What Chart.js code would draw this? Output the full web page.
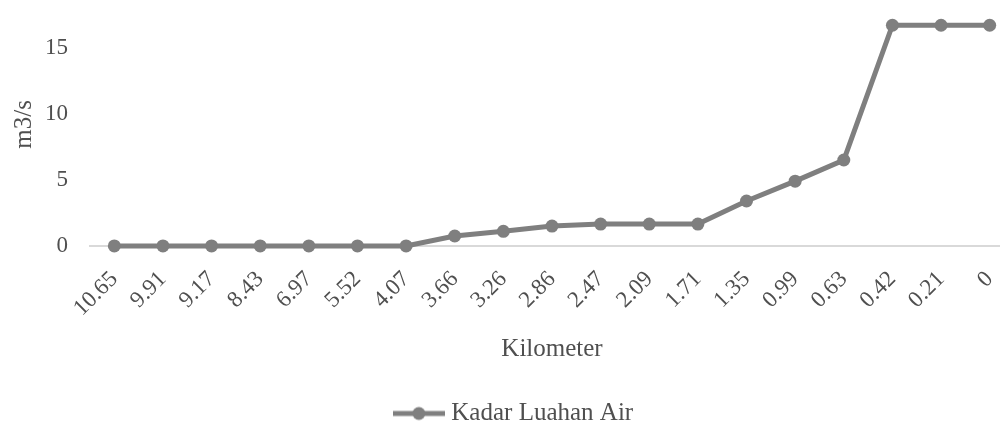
<!DOCTYPE html>
<html>
<head>
<meta charset="utf-8">
<script src="https://cdn.jsdelivr.net/npm/chart.js@4"></script>
<style>
  html, body { margin: 0; padding: 0; background: #fff; overflow: hidden; }
  #wrap { width: 1026px; height: 450px; margin-top: -25px; }
</style>
</head>
<body>
<div id="wrap"><canvas id="grafik"></canvas></div>
<script>
const kilometer = ["10.65", "9.91", "9.17", "8.43", "6.97", "5.52", "4.07", "3.66", "3.26", "2.86",
  "2.47", "2.09", "1.71", "1.35", "0.99", "0.63", "0.42", "0.21", "0"];
const luahan = [0, 0, 0, 0, 0, 0, 0, 0.75, 1.1, 1.5, 1.65, 1.65, 1.65, 3.4, 4.9, 6.5, 16.7, 16.7, 16.7];
const yTicks = [0, 5, 10, 15];

const abu = "#7f7f7f";
const teks = "#4f4f4f";
const serif = "'Liberation Serif', 'Times New Roman', serif";
const hurufTick = { family: serif, size: 23 };
const hurufJudul = { family: serif, size: 25 };

// legend marker: short line with a dot in the middle
const ikon = document.createElement("canvas");
ikon.width = 52;
ikon.height = 16;
const ic = ikon.getContext("2d");
ic.strokeStyle = abu;
ic.lineWidth = 5;
ic.beginPath();
ic.moveTo(0, 8);
ic.lineTo(52, 8);
ic.stroke();
ic.fillStyle = abu;
ic.beginPath();
ic.arc(26, 8, 6.5, 0, Math.PI * 2);
ic.fill();

const ctx = document.getElementById("grafik").getContext("2d");

new Chart(ctx, {
  type: "line",
  data: {
    labels: kilometer,
    datasets: [
      {
        label: "Kadar Luahan Air",
        data: luahan,
        borderColor: abu,
        backgroundColor: abu,
        borderWidth: 5,
        pointRadius: 6.5,
        pointHoverRadius: 6.5,
        pointBackgroundColor: abu,
        pointBorderWidth: 0,
        tension: 0,
        clip: false,
      },
    ],
  },
  options: {
    responsive: true,
    maintainAspectRatio: false,
    animation: false,
    layout: { padding: { top: 0, left: 18, right: 12, bottom: -11 } },
    plugins: {
      legend: {
        position: "bottom",
        labels: {
          color: teks,
          font: hurufJudul,
          usePointStyle: true,
          pointStyle: ikon,
          pointStyleWidth: 40,
          boxHeight: 16,
          padding: 2,
        },
      },
      tooltip: { enabled: false },
    },
    scales: {
      x: {
        offset: true,
        grid: { display: false },
        border: { display: true, color: "#d9d9d9", width: 2 },
        ticks: {
          color: teks,
          font: hurufTick,
          autoSkip: false,
          maxRotation: 45,
          minRotation: 45,
          padding: 12,
        },
        title: {
          display: true,
          text: "Kilometer",
          color: teks,
          font: hurufJudul,
          padding: { top: 0, bottom: 35 },
        },
      },
      y: {
        min: 0,
        max: 18.4,
        grid: { display: false },
        border: { display: false },
        ticks: {
          stepSize: 5,
          color: teks,
          font: hurufTick,
          padding: 14,
        },
        afterBuildTicks: (scale) => {
          scale.ticks = yTicks.map((v) => ({ value: v }));
        },
        afterFit: (scale) => {
          scale.width = 72;
        },
        title: {
          display: true,
          text: "m3/s",
          color: teks,
          font: { family: serif, size: 25, lineHeight: 1 },
          padding: { top: -6, bottom: 0 },
        },
      },
    },
  },
});
</script>
</body>
</html>
